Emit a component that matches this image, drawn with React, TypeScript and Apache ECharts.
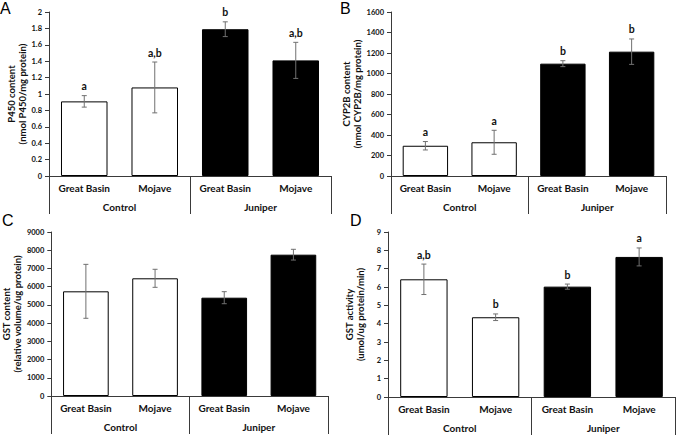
import React, { useEffect, useRef } from 'react';
import * as echarts from 'echarts';

const categories = ['Great Basin', 'Mojave', 'Great Basin', 'Mojave'];
const groups = ['Control', 'Juniper'];
const barGroup = [0, 0, 1, 1];

const p450Values = [0.91, 1.08, 1.79, 1.41];
const p450Errors = [0.07, 0.31, 0.09, 0.22];
const p450Letters = ['a', 'a,b', 'b', 'a,b'];

const cyp2bValues = [295, 329, 1096, 1213];
const cyp2bErrors = [41, 117, 29, 124];
const cyp2bLetters = ['a', 'a', 'b', 'b'];

const gstContentValues = [5745, 6459, 5395, 7755];
const gstContentErrors = [1480, 495, 330, 295];
const gstContentLetters = ['', '', '', ''];

const gstActivityValues = [6.42, 4.35, 6.02, 7.64];
const gstActivityErrors = [0.83, 0.18, 0.14, 0.49];
const gstActivityLetters = ['a,b', 'b', 'b', 'a'];

const panelLetters = ['A', 'B', 'C', 'D'];
const yTitles = [
  'P450 content\n(nmol P450/mg protein)',
  'CYP2B content\n(nmol CYP2B/mg protein)',
  'GST content\n(relative volume/ug protein)',
  'GST activity\n(umol/ug protein/min)',
];
const yMax = [2, 1600, 9000, 9];
const yInterval = [0.2, 200, 1000, 1];

const panelValues = [p450Values, cyp2bValues, gstContentValues, gstActivityValues];
const panelErrors = [p450Errors, cyp2bErrors, gstContentErrors, gstActivityErrors];
const panelSigLetters = [p450Letters, cyp2bLetters, gstContentLetters, gstActivityLetters];

// layout (positions/sizes only)
const grids = [
  { left: 49, top: 12, width: 282, height: 164 },
  { left: 391, top: 12, width: 275, height: 164 },
  { left: 50, top: 232, width: 278, height: 164 },
  { left: 388, top: 232, width: 287, height: 165 },
];
const nameGaps = [20, 27, 27, 22];
const letterPos = [
  [0, 0],
  [340, 0],
  [2, 212],
  [350, 212],
];

const FONT = 'Lato';
const AXIS_COLOR = '#3a3a3a';
const ERR_COLOR = '#707070';

export default function App() {
  const ref = useRef<HTMLDivElement>(null);
  useEffect(() => {
    if (!ref.current) return;
    const chart = echarts.init(ref.current, undefined, { renderer: 'svg' });

    const xAxis: any[] = [];
    const yAxis: any[] = [];
    const series: any[] = [];

    grids.forEach((g, i) => {
      xAxis.push({
        type: 'category',
        gridIndex: i,
        data: categories,
        position: 'bottom',
        axisLine: { show: true, lineStyle: { color: AXIS_COLOR, width: 1 } },
        axisTick: {
          show: true,
          length: 38,
          interval: (idx: number) => idx % 2 === 0,
          lineStyle: { color: AXIS_COLOR, width: 1 },
        },
        axisLabel: {
          interval: 0,
          margin: 7,
          fontFamily: FONT,
          fontWeight: 'bold',
          fontSize: 10,
          color: '#111',
        },
      });
      xAxis.push({
        type: 'category',
        gridIndex: i,
        data: groups,
        position: 'bottom',
        offset: 0,
        axisLine: { show: false },
        axisTick: { show: false },
        axisLabel: {
          interval: 0,
          margin: 26,
          fontFamily: FONT,
          fontWeight: 'bold',
          fontSize: 10,
          color: '#111',
        },
      });
      yAxis.push({
        type: 'value',
        gridIndex: i,
        min: 0,
        max: yMax[i],
        interval: yInterval[i],
        name: yTitles[i],
        nameLocation: 'middle',
        nameGap: nameGaps[i],
        nameTextStyle: {
          fontFamily: FONT,
          fontWeight: 'bold',
          fontSize: 9.5,
          lineHeight: 11,
          color: '#111',
        },
        axisLine: { show: true, lineStyle: { color: AXIS_COLOR, width: 1 } },
        axisTick: { show: true, length: 4, lineStyle: { color: AXIS_COLOR } },
        splitLine: { show: false },
        axisLabel: {
          margin: 7,
          fontFamily: FONT,
          fontWeight: 'bold',
          fontSize: 7.5,
          color: '#111',
          formatter: (v: number) => String(Math.round(v * 100) / 100),
        },
      });

      const vals = panelValues[i];
      const errs = panelErrors[i];
      const sig = panelSigLetters[i];

      series.push({
        type: 'bar',
        xAxisIndex: i * 2,
        yAxisIndex: i,
        barWidth: '66%',
        data: vals.map((v, k) => ({
          value: v,
          itemStyle: {
            color: barGroup[k] === 0 ? '#ffffff' : '#000000',
            borderColor: '#000',
            borderWidth: 1,
          },
        })),
      });

      series.push({
        type: 'custom',
        xAxisIndex: i * 2,
        yAxisIndex: i,
        z: 5,
        data: vals.map((v, k) => [k, v, errs[k]]),
        renderItem: (params: any, api: any) => {
          const x = api.value(0);
          const v = api.value(1);
          const e = api.value(2);
          const top = api.coord([x, v + e]);
          const bot = api.coord([x, v - e]);
          const cap = 2.5;
          const lineStyle = { stroke: ERR_COLOR, lineWidth: 1 };
          const children: any[] = [
            { type: 'line', shape: { x1: top[0], y1: top[1], x2: bot[0], y2: bot[1] }, style: lineStyle },
            { type: 'line', shape: { x1: top[0] - cap, y1: top[1], x2: top[0] + cap, y2: top[1] }, style: lineStyle },
            { type: 'line', shape: { x1: bot[0] - cap, y1: bot[1], x2: bot[0] + cap, y2: bot[1] }, style: lineStyle },
          ];
          const letter = sig[params.dataIndex];
          if (letter) {
            children.push({
              type: 'text',
              style: {
                text: letter,
                x: top[0],
                y: top[1] - 4,
                textAlign: 'center',
                textVerticalAlign: 'bottom',
                fontFamily: FONT,
                fontWeight: 'bold',
                fontSize: 10.5,
                fill: '#111',
              },
            });
          }
          return { type: 'group', children };
        },
      });
    });

    chart.setOption({
      animation: false,
      backgroundColor: '#ffffff',
      grid: grids.map((g) => ({ ...g, containLabel: false })),
      xAxis,
      yAxis,
      series,
      graphic: panelLetters.map((t, i) => ({
        type: 'text',
        left: letterPos[i][0],
        top: letterPos[i][1],
        style: {
          text: t,
          fontFamily: 'Liberation Sans',
          fontSize: 16,
          fill: '#000',
        },
      })),
    });

    return () => chart.dispose();
  }, []);

  return (
    <div
      ref={ref}
      style={{ position: 'fixed', left: 0, top: 0, width: 677, height: 435, background: '#fff' }}
    />
  );
}
